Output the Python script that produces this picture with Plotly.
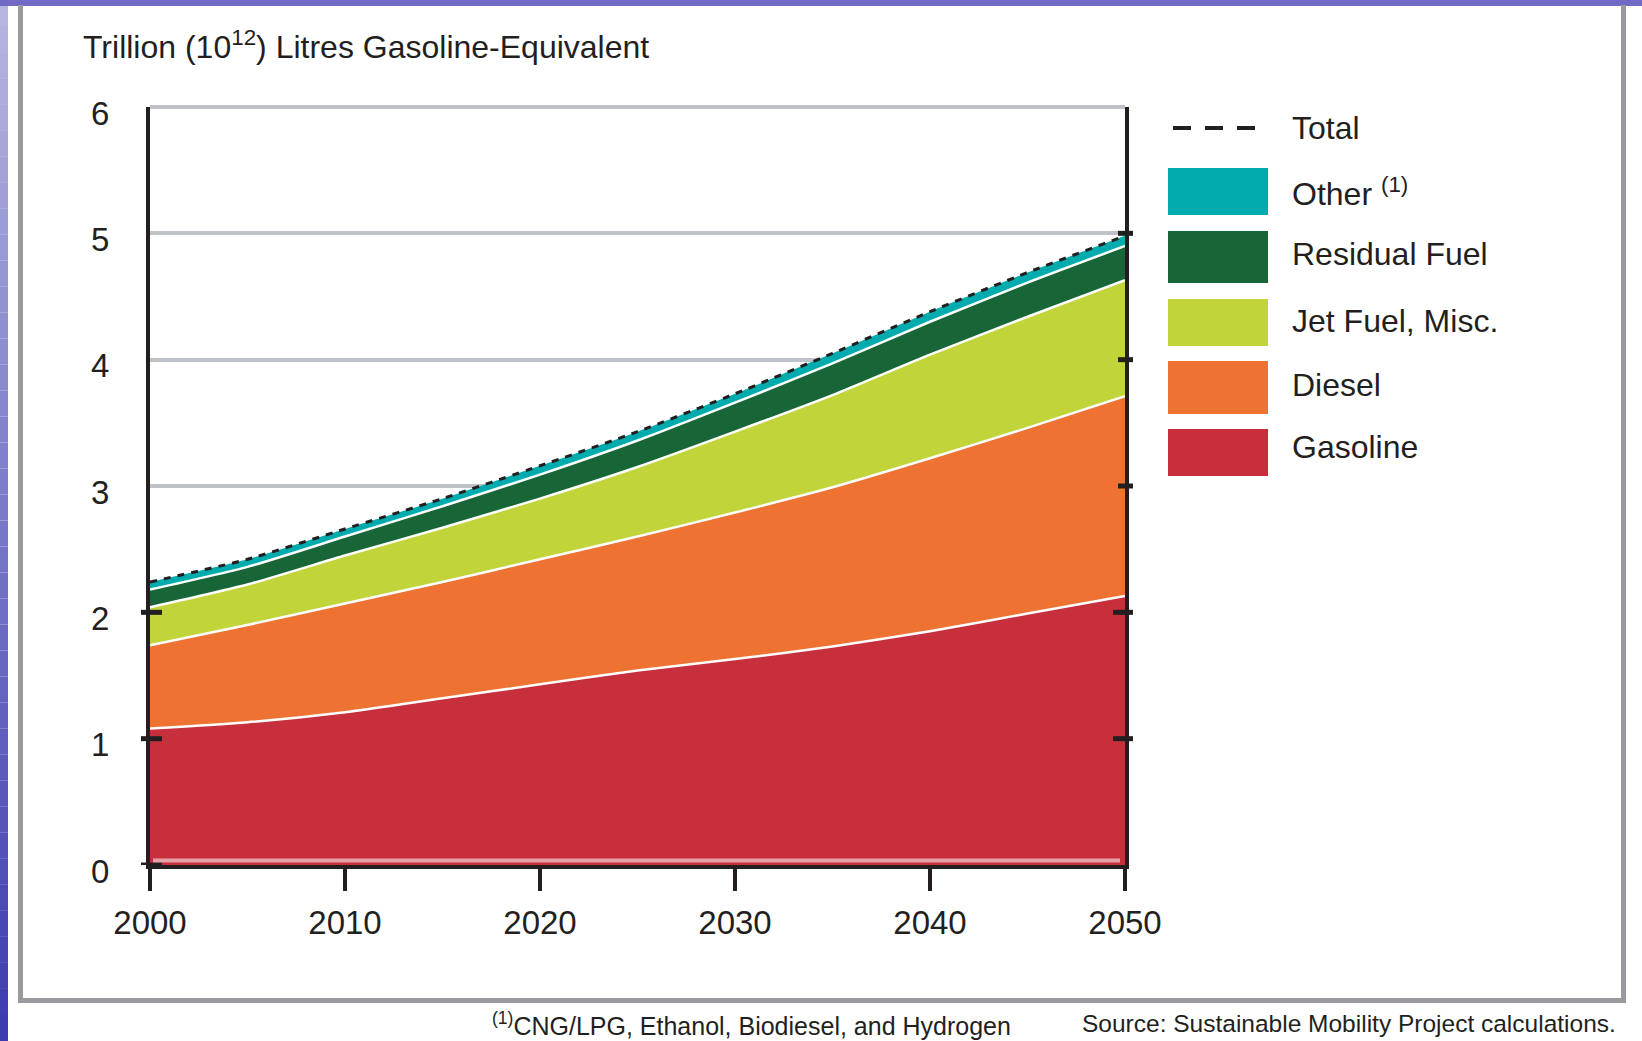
import numpy as np
import plotly.graph_objects as go

# Transport fuel demand projection, trillion litres gasoline-equivalent
years = [2000, 2005, 2010, 2015, 2020, 2025, 2030, 2035, 2040, 2045, 2050]
gasoline = [1.08, 1.13, 1.21, 1.32, 1.43, 1.54, 1.63, 1.73, 1.85, 1.99, 2.13]
diesel = [0.66, 0.77, 0.86, 0.92, 0.99, 1.06, 1.16, 1.26, 1.37, 1.47, 1.58]
jet_fuel = [0.30, 0.32, 0.38, 0.43, 0.48, 0.55, 0.64, 0.73, 0.82, 0.88, 0.92]
residual = [0.14, 0.14, 0.15, 0.17, 0.19, 0.21, 0.23, 0.25, 0.26, 0.27, 0.27]
other = [0.06, 0.06, 0.06, 0.06, 0.07, 0.07, 0.07, 0.08, 0.08, 0.08, 0.08]

x_ticks = [2000, 2010, 2020, 2030, 2040, 2050]
y_ticks = [0, 1, 2, 3, 4, 5, 6]
left_marks = [0, 1, 2]
right_marks = [1, 2, 3, 4, 5]

series = [
    ("Gasoline", gasoline, "#c62f3b"),
    ("Diesel", diesel, "#ee7232"),
    ("Jet Fuel, Misc.", jet_fuel, "#c1d53b"),
    ("Residual Fuel", residual, "#186637"),
    ("Other<sup>(1)</sup>", other, "#00abae"),
]
total = np.sum([gasoline, diesel, jet_fuel, residual, other], axis=0)

INK = "#231f20"
GRID = "#bfc3c9"
FONT = "Liberation Sans, Arial, sans-serif"

# page geometry (pixels) and plot-area box
FIG_W, FIG_H = 1642, 1041
L, R, T, B = 150, 1125, 107, 865
PW, PH = R - L, B - T


def px(x):
    return (x - L) / PW


def py(y):
    return (B - y) / PH


fig = go.Figure()

for name, vals, color in series:
    last = name.startswith("Other")
    fig.add_trace(go.Scatter(
        x=years, y=vals, name=name, stackgroup="fuel", mode="lines",
        line=dict(color="white", width=0 if last else 2.5, shape="spline", smoothing=0.6),
        fillcolor=color, hoverinfo="skip", showlegend=False,
    ))

fig.add_trace(go.Scatter(
    x=years, y=total, name="Total", mode="lines",
    line=dict(color=INK, width=3, dash="7px,7px", shape="spline", smoothing=0.6),
    showlegend=False,
))

shapes = []

# slide backdrop: gradient strip on the left edge and band across the top
n_band = 40
for i in range(n_band):
    t = i / (n_band - 1)
    c = (int(182 - 122 * t), int(182 - 122 * t), int(224 - 48 * t))
    y0 = FIG_H * i / n_band
    y1 = FIG_H * (i + 1) / n_band
    shapes.append(dict(type="rect", xref="paper", yref="paper",
                       x0=px(0), x1=px(8), y0=py(y1), y1=py(y0),
                       fillcolor=f"rgb{c}", line=dict(width=0), layer="below"))
shapes.append(dict(type="rect", xref="paper", yref="paper",
                   x0=px(0), x1=px(FIG_W), y0=py(6), y1=py(0),
                   fillcolor="rgb(112,106,198)", line=dict(width=0), layer="below"))

# grey frame around the figure panel
for x0, x1, y0, y1 in [(18, 23, 5, 1003), (18, 1626, 998, 1003), (1621, 1626, 5, 1003)]:
    shapes.append(dict(type="rect", xref="paper", yref="paper",
                       x0=px(x0), x1=px(x1), y0=py(y1), y1=py(y0),
                       fillcolor="#9a9a9e", line=dict(width=0), layer="below"))

# top gridline sits on the range edge (paper y = 1), so draw it explicitly
shapes.append(dict(type="line", xref="paper", yref="paper", x0=0, x1=1,
                   y0=1, y1=1, line=dict(color=GRID, width=4), layer="below"))

# tick marks that cross the left and right axis lines
for v in left_marks:
    shapes.append(dict(type="line", xref="paper", yref="y", x0=px(141), x1=px(162),
                       y0=v, y1=v, line=dict(color=INK, width=5), layer="above"))
for v in right_marks:
    x_in = 1113 if v <= 2 else 1118
    shapes.append(dict(type="line", xref="paper", yref="y", x0=px(x_in), x1=px(1133),
                       y0=v, y1=v, line=dict(color=INK, width=5), layer="above"))

# light edge just above the baseline
shapes.append(dict(type="line", xref="paper", yref="paper",
                   x0=px(153), x1=px(1120), y0=py(860.5), y1=py(860.5),
                   line=dict(color="rgba(255,255,255,0.55)", width=4), layer="above"))

# legend swatches
swatches = [
    ("#00abae", 168, 215),
    ("#186637", 231, 283),
    ("#c1d53b", 299, 346),
    ("#ee7232", 361, 414),
    ("#c62f3b", 429, 476),
]
for color, y0, y1 in swatches:
    shapes.append(dict(type="rect", xref="paper", yref="paper",
                       x0=px(1168), x1=px(1268), y0=py(y1), y1=py(y0),
                       fillcolor=color, line=dict(width=0)))
shapes.append(dict(type="line", xref="paper", yref="paper",
                   x0=px(1173), x1=px(1263), y0=py(128), y1=py(128),
                   line=dict(color=INK, width=4, dash="18px,14px")))

annotations = []
legend_labels = [
    ("Total", 128),
    ("Other <sup>(1)</sup>", 192),
    ("Residual Fuel", 254),
    ("Jet Fuel, Misc.", 321),
    ("Diesel", 385),
    ("Gasoline", 447),
]
for text, yc in legend_labels:
    annotations.append(dict(text=text, xref="paper", yref="paper", x=px(1290), y=py(yc),
                            xanchor="left", yanchor="middle", showarrow=False,
                            font=dict(size=32, color=INK, family=FONT)))

annotations.append(dict(text="Trillion (10<sup>12</sup>) Litres Gasoline-Equivalent",
                        xref="paper", yref="paper", x=px(81), y=py(45),
                        xanchor="left", yanchor="middle", showarrow=False,
                        font=dict(size=32, color=INK, family=FONT)))
annotations.append(dict(text="<sup>(1)</sup>CNG/LPG, Ethanol, Biodiesel, and Hydrogen",
                        xref="paper", yref="paper", x=px(490), y=py(1024),
                        xanchor="left", yanchor="middle", showarrow=False,
                        font=dict(size=25, color=INK, family=FONT)))
annotations.append(dict(text="Source: Sustainable Mobility Project calculations.",
                        xref="paper", yref="paper", x=px(1080), y=py(1024),
                        xanchor="left", yanchor="middle", showarrow=False,
                        font=dict(size=24.5, color=INK, family=FONT)))

fig.update_layout(
    width=FIG_W, height=FIG_H, autosize=False,
    margin=dict(l=L, r=FIG_W - R, t=T, b=FIG_H - B, pad=0),
    paper_bgcolor="white", plot_bgcolor="white",
    showlegend=False,
    font=dict(family=FONT, color=INK),
    xaxis=dict(
        range=[2000, 2050], tickvals=x_ticks, ticktext=[str(v) for v in x_ticks],
        ticks="outside", ticklen=22, tickwidth=4, tickcolor=INK,
        showline=True, linewidth=4, linecolor=INK,
        showgrid=False, zeroline=False, ticklabelstandoff=3,
        tickfont=dict(size=33, color=INK, family=FONT),
    ),
    yaxis=dict(
        range=[0, 6], tickvals=y_ticks, ticktext=[str(v) for v in y_ticks],
        ticks="", showline=True, mirror=True, linewidth=4, linecolor=INK,
        showgrid=True, gridcolor=GRID, gridwidth=4, zeroline=False,
        ticklabelstandoff=30, ticklabelshift=6,
        tickfont=dict(size=33, color=INK, family=FONT),
    ),
    shapes=shapes,
    annotations=annotations,
)

fig.write_html("out.html")
